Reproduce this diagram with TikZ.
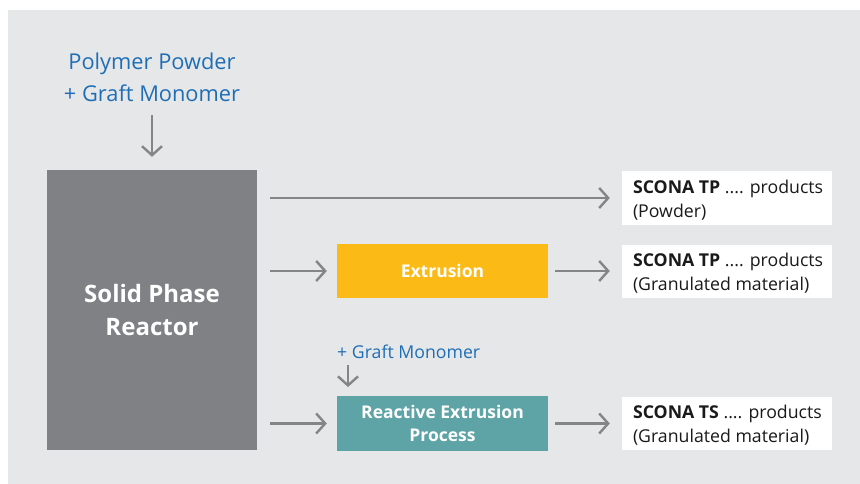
\documentclass[tikz,border=0pt]{standalone}
\usepackage{fontspec}
\setmainfont{Open Sans}
\usetikzlibrary{arrows.meta}
\definecolor{bggray}{HTML}{E6E7E9}
\definecolor{reactorgray}{HTML}{808184}
\definecolor{extyellow}{HTML}{FBBA16}
\definecolor{reateal}{HTML}{5EA4A6}
\definecolor{blueText}{HTML}{1F6EB5}
\definecolor{arrowgray}{HTML}{858585}
\definecolor{darktext}{HTML}{1A1A1A}
\tikzset{
  flow/.style={draw=arrowgray, line width=2.4pt, -{Straight Barb[length=9pt,width=20pt,line width=2.4pt]}},
  procbox/.style={minimum width=211pt, minimum height=54pt, inner sep=0pt, text=white, font=\fontsize{17.5}{23}\selectfont\bfseries, align=center},
  prodbox/.style={fill=white, minimum width=210pt, minimum height=53pt, inner sep=0pt},
  prodtext/.style={anchor=west, inner sep=0pt, align=left, text=darktext, font=\fontsize{17.7}{24}\selectfont},
  bluelabel/.style={text=blueText, inner sep=0pt, align=center},
}
\begin{document}
\begin{tikzpicture}[x=1pt,y=-1pt]
\useasboundingbox (0,0) rectangle (860,484);
\fill[bggray] (8,10) rectangle (860,484);
% input label
\node[bluelabel, font=\fontsize{21.8}{32}\selectfont] (poly) at (152,77) {Polymer Powder\\+ Graft Monomer};
% reactor
\node[fill=reactorgray, minimum width=210pt, minimum height=280pt, inner sep=0pt, text=white,
      font=\fontsize{24}{33}\selectfont\bfseries, align=center] (reactor) at (152,310) {Solid Phase\\Reactor};
% processes
\node[procbox, fill=extyellow] (extr) at (442.5,271) {Extrusion};
\node[procbox, fill=reateal, minimum height=55pt] (reac) at (442.5,423.5) {Reactive Extrusion\\Process};
% graft monomer label
\node[bluelabel, anchor=west, font=\fontsize{17.7}{22}\selectfont] (graft) at (337,352) {+ Graft Monomer};
% products
\node[prodbox] (p1) at (727,198) {};
\node[prodbox] (p2) at (727,271) {};
\node[prodbox] (p3) at (727,423.5) {};
\node[prodtext] (t1) at ([xshift=11pt,yshift=-2pt]p1.west) {\textbf{SCONA TP} .... products\\(Powder)};
\node[prodtext] (t2) at ([xshift=11pt,yshift=-2pt]p2.west) {\textbf{SCONA TP} .... products\\(Granulated material)};
\node[prodtext] (t3) at ([xshift=11pt,yshift=-2pt]p3.west) {\textbf{SCONA TS} .... products\\(Granulated material)};
% coordinates for arrow ends
\coordinate (in1) at (152,115);
\coordinate (gtop) at (348,365);
% arrows
\draw[flow] (in1) -- ([yshift=13pt]reactor.north);
\draw[flow] ([xshift=13pt]reactor.east |- p1.west) -- ([xshift=-12pt]p1.west);
\draw[flow] ([xshift=13pt]reactor.east |- extr.west) -- ([xshift=-10pt]extr.west);
\draw[flow] ([xshift=7pt]extr.east) -- ([xshift=-12pt]p2.west);
\draw[flow] ([xshift=13pt]reactor.east |- reac.west) -- ([xshift=-10pt]reac.west);
\draw[flow] ([xshift=7pt]reac.east) -- ([xshift=-12pt]p3.west);
\draw[flow] (gtop) -- (gtop |- 0,387);
\end{tikzpicture}
\end{document}
